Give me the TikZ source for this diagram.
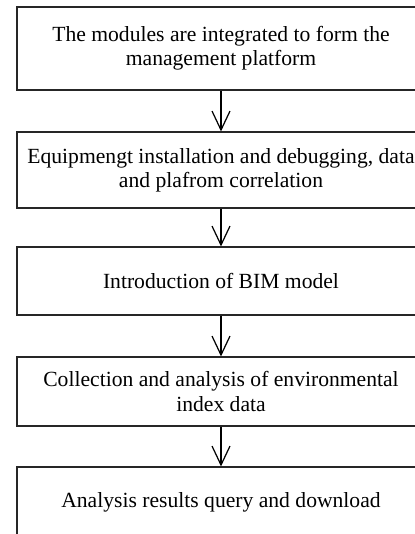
\documentclass[tikz,border=0pt]{standalone}
\usepackage{fontspec}
\setmainfont{Liberation Serif}
\usetikzlibrary{arrows.meta}

\tikzset{
  stagebox/.style={draw=black!85, line width=0.6pt, minimum width=8.16cm,
    align=center, inner sep=0pt,
    font=\fontsize{12.3pt}{13.8pt}\selectfont},
  flowarrow/.style={draw=black, line width=0.7pt,
    -{Straight Barb[length=0.38cm, width=0.36cm, line width=0.7pt]}}
}

\begin{document}
\begin{tikzpicture}
    % 页面范围
    \useasboundingbox (0,0) rectangle (8.28,10.68);

    % 流程各步骤
    \node[stagebox, minimum height=1.66cm] (modules) at (4.42, 9.71)
      {The modules are integrated to form the\\management platform};
    \node[stagebox, minimum height=1.52cm] (install) at (4.42, 7.28)
      {Equipmengt installation and debugging, data\\and plafrom correlation};
    \node[stagebox, minimum height=1.36cm] (bim) at (4.42, 5.06)
      {Introduction of BIM model};
    \node[stagebox, minimum height=1.38cm] (collect) at (4.42, 2.85)
      {Collection and analysis of environmental\\index data};
    \node[stagebox, minimum height=1.40cm] (query) at (4.42, 0.64)
      {Analysis results query and download};

    % 步骤之间的箭头
    \draw[flowarrow] (modules.south) -- (install.north);
    \draw[flowarrow] (install.south) -- (bim.north);
    \draw[flowarrow] (bim.south) -- (collect.north);
    \draw[flowarrow] (collect.south) -- (query.north);
\end{tikzpicture}
\end{document}
